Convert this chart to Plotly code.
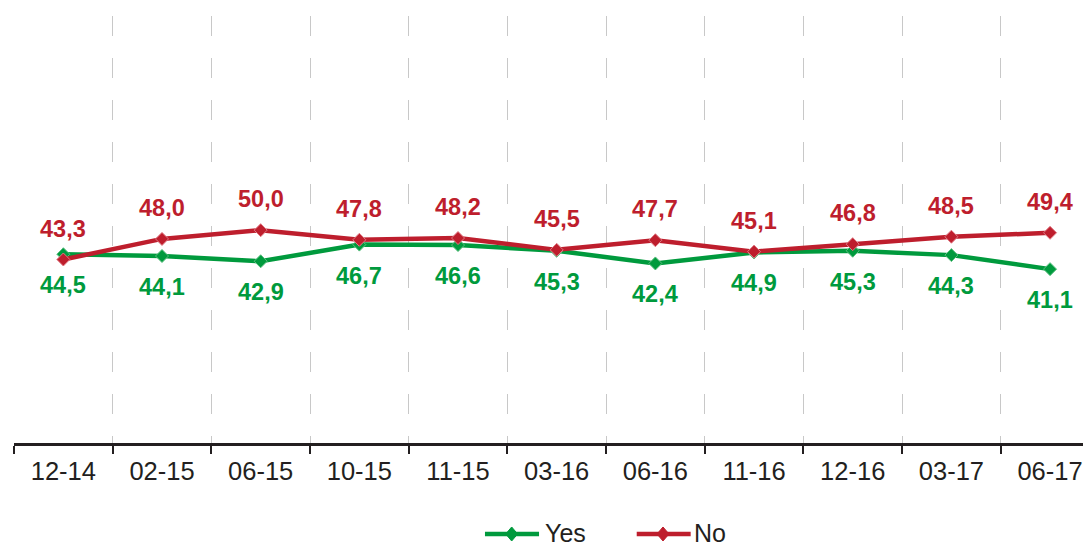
import plotly.graph_objects as go

# --------------------------------------------------------
# Data
periods = ["12-14", "02-15", "06-15", "10-15", "11-15", "03-16",
           "06-16", "11-16", "12-16", "03-17", "06-17"]
yes_values = [44.5, 44.1, 42.9, 46.7, 46.6, 45.3, 42.4, 44.9, 45.3, 44.3, 41.1]
no_values = [43.3, 48.0, 50.0, 47.8, 48.2, 45.5, 47.7, 45.1, 46.8, 48.5, 49.4]
series_names = ["Yes", "No"]

green = "#009a3d"
red = "#be1e2d"
text_color = "#231f20"
font_family = "Liberation Sans, Arial, sans-serif"


def fmt(v):
    # comma as decimal separator
    return f"{v:.1f}".replace(".", ",")


fig = go.Figure()

fig.add_trace(go.Scatter(
    x=periods,
    y=yes_values,
    mode="lines+markers",
    name=series_names[0],
    line=dict(color=green, width=4.5),
    marker=dict(symbol="diamond", size=10, color=green,
                line=dict(color="#5cbf80", width=1)),
    hoverinfo="skip",
))
fig.add_trace(go.Scatter(
    x=periods,
    y=no_values,
    mode="lines+markers",
    name=series_names[1],
    line=dict(color=red, width=4.5),
    marker=dict(symbol="diamond", size=10, color=red,
                line=dict(color="#e07a84", width=1)),
    hoverinfo="skip",
))

# Data labels: No above, Yes below
annotations = []
for p, v in zip(periods, no_values):
    annotations.append(dict(
        x=p, y=v, xref="x", yref="y", text=fmt(v), showarrow=False,
        yshift=31, font=dict(family=font_family, size=23.5, color=red, weight="bold"),
    ))
for p, v in zip(periods, yes_values):
    annotations.append(dict(
        x=p, y=v, xref="x", yref="y", text=fmt(v), showarrow=False,
        yshift=-31, font=dict(family=font_family, size=23.5, color=green, weight="bold"),
    ))

# --------------------------------------------------------
# Hand-drawn legend (longer line symbols than plotly's own legend)
shapes = []
legend_y = -0.2131
legend_items = [
    (series_names[0], green, 0.4373, 0.4875, 0.4621, 0.4912),
    (series_names[1], red, 0.5782, 0.6283, 0.6026, 0.6296),
]
for name, color, x0, x1, xm, xt in legend_items:
    shapes.append(dict(type="line", xref="paper", yref="paper",
                       x0=x0, x1=x1, y0=legend_y, y1=legend_y,
                       line=dict(color=color, width=4.5)))
    shapes.append(dict(type="path", xref="paper", yref="paper",
                       xsizemode="pixel", ysizemode="pixel",
                       xanchor=xm, yanchor=legend_y,
                       path="M0,-7 L6,0 L0,7 L-6,0 Z",
                       fillcolor=color, line=dict(color=color, width=1)))
    annotations.append(dict(
        x=xt, y=legend_y, xref="paper", yref="paper", text=name,
        showarrow=False, xanchor="left", yanchor="middle", yshift=1,
        font=dict(family=font_family, size=25, color=text_color),
    ))

# page body has an 8px margin, so the figure is 8px smaller and margins shifted
fig.update_layout(
    width=1083,
    height=540,
    paper_bgcolor="white",
    plot_bgcolor="white",
    margin=dict(l=6, r=0, t=8, b=105, autoexpand=False),
    font=dict(family=font_family, color=text_color),
    annotations=annotations,
    shapes=shapes,
    showlegend=False,
    xaxis=dict(
        type="category",
        range=[-0.5, 10.415],
        automargin=False,
        tickson="boundaries",
        ticks="outside",
        ticklen=8,
        tickwidth=2,
        tickcolor=text_color,
        showline=True,
        linecolor=text_color,
        linewidth=2.5,
        showgrid=True,
        gridcolor="#c8c8c8",
        gridwidth=1.2,
        griddash="20px,22px",
        tickfont=dict(size=25.5, color=text_color),
        ticklabelstandoff=4,
        fixedrange=True,
    ),
    yaxis=dict(
        range=[1.4, 98.9],
        automargin=False,
        showgrid=False,
        showline=False,
        zeroline=False,
        showticklabels=False,
        ticks="",
        fixedrange=True,
    ),
)

fig.write_html("out.html")
